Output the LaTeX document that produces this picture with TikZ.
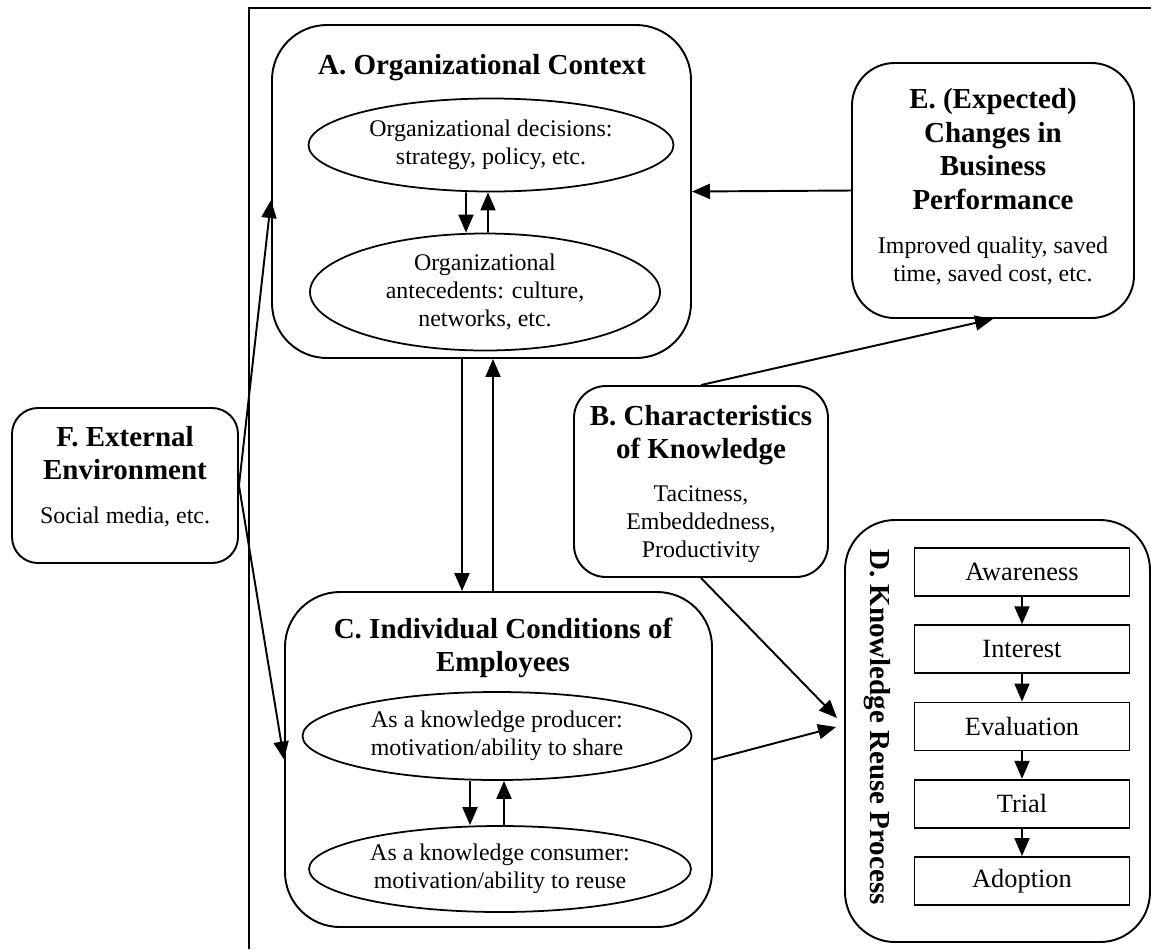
\documentclass[tikz,border=0pt]{standalone}
\usepackage{fontspec}
\setmainfont{Liberation Serif}
\usepackage{tikz}
\usetikzlibrary{shapes.geometric}
\usetikzlibrary{arrows.meta}

\newcommand{\headtxt}{\fontsize{16.5}{19}\selectfont\bfseries}
\newcommand{\bodytxt}{\fontsize{13.6}{16}\selectfont}
\newcommand{\steptxt}{\fontsize{15}{18}\selectfont}

\begin{document}
\begin{tikzpicture}[
		box/.style={draw, line width=1.1pt, rounded corners=#1, inner sep=0pt},
		box/.default=1cm,
		oval/.style={draw, ellipse, line width=1pt, inner sep=0pt, align=center, font=\bodytxt},
		stepbox/.style={draw, line width=1.1pt, minimum width=4.3cm, minimum height=0.96cm, font=\steptxt},
		head/.style={align=center, font=\headtxt},
		body/.style={align=center, font=\bodytxt},
		link/.style={line width=1.1pt, -{Triangle[length=0.36cm, width=0.3cm]}}
	]
		\useasboundingbox (0,0) rectangle (23.02,-18.98);

		\draw[line width=1.1pt] (23.02,-0.16) -- (4.98,-0.16) -- (4.98,-18.98);

		\node[box=1.1cm, minimum width=8.38cm, minimum height=6.66cm] (A) at (9.63,-3.83) {};
		\node[head] (Ahead) at (9.64,-1.36) {A. Organizational Context};
		\node[oval, minimum width=7.3cm, minimum height=1.86cm] (dec) at (9.82,-2.9) {Organizational decisions:\\strategy, policy, etc.};
		\node[oval, minimum width=7.0cm, minimum height=2.34cm] (ant) at (9.7,-5.84) {Organizational\\antecedents: culture,\\networks, etc.};

		\node[box=0.85cm, minimum width=5.64cm, minimum height=5.1cm] (E) at (19.86,-3.81) {};
		\node[head] (Ehead) at (19.86,-2.98) {E. (Expected)\\Changes in\\Business\\Performance};
		\node[body] (Ebody) at (19.86,-5.22) {Improved quality, saved\\time, saved cost, etc.};

		\node[box=0.64cm, minimum width=5.08cm, minimum height=3.82cm] (B) at (14.02,-9.63) {};
		\node[head] (Bhead) at (14.02,-8.7) {B. Characteristics\\of Knowledge};
		\node[body] (Bbody) at (14.02,-10.48) {Tacitness,\\Embeddedness,\\Productivity};

		\node[box=0.52cm, minimum width=4.52cm, minimum height=3.1cm] (F) at (2.5,-9.71) {};
		\node[head] (Fhead) at (2.5,-9.06) {F. External\\Environment};
		\node[body] (Fbody) at (2.5,-10.34) {Social media, etc.};

		\node[box=1.1cm, minimum width=8.54cm, minimum height=6.7cm] (C) at (9.97,-15.19) {};
		\node[head] (Chead) at (10.06,-12.96) {C. Individual Conditions of\\Employees};
		\node[oval, minimum width=7.78cm, minimum height=1.76cm] (prod) at (9.94,-14.72) {As a knowledge producer:\\motivation/ability to share};
		\node[oval, minimum width=7.64cm, minimum height=1.72cm] (cons) at (10,-17.38) {As a knowledge consumer:\\motivation/ability to reuse};

		\node[box=1cm, minimum width=6.1cm, minimum height=8.44cm] (D) at (19.95,-14.62) {};
		\node[head, rotate=-90] (Dhead) at (17.54,-14.54) {D. Knowledge Reuse Process};
		\foreach \t [count=\i] in {Awareness,Interest,Evaluation,Trial,Adoption}
			\node[stepbox] (s\i) at (20.44,{-11.44-1.545*(\i-1)}) {\t};
		\foreach \i/\j in {1/2,2/3,3/4,4/5}
			\draw[link] (s\i.south) -- (s\j.north);

		\draw[link] ([xshift=-0.5cm]dec.south) -- ([xshift=-0.38cm]ant.north);
		\draw[link] ([xshift=0.06cm]ant.north) -- ([xshift=-0.06cm]dec.south);
		\draw[link] ([xshift=-0.54cm]prod.south) -- ([xshift=-0.6cm]cons.north);
		\draw[link] ([xshift=0.08cm]cons.north) -- ([xshift=0.14cm]prod.south);
		\draw[link] ([xshift=-0.39cm]A.south) -- ([xshift=-0.73cm]C.north);
		\draw[link] ([xshift=-0.11cm]C.north) -- ([xshift=0.23cm]A.south);

		\draw[link] (E.west) -- (A.east);
		\draw[link] (B.north) -- (E.south);
		\draw[link] (B.south) -- ([xshift=-0.14cm, yshift=0.26cm]D.west);
		\draw[link] (C.east) -- ([xshift=-0.16cm, yshift=0.08cm]D.west);
		\draw[link] (F.east) -- ([yshift=-0.17cm]A.west);
		\draw[link] (F.east) -- (C.west);
	\end{tikzpicture}
\end{document}
